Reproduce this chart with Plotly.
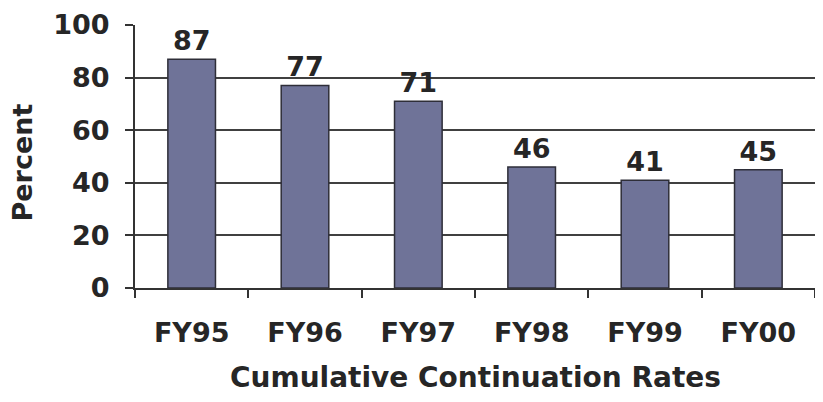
import plotly.graph_objects as go

categories = ["FY95", "FY96", "FY97", "FY98", "FY99", "FY00"]
values = [87, 77, 71, 46, 41, 45]
y_ticks = [0, 20, 40, 60, 80, 100]
x_title = "Cumulative Continuation Rates"
y_title = "Percent"

font_fam = "DejaVu Sans, Liberation Sans, Arial, sans-serif"
txt_col = "#262626"
fsize = 27

fig = go.Figure(go.Bar(
    x=categories, y=values,
    marker=dict(color="#6f7398", line=dict(color="#2e2e38", width=1.5)),
    text=[str(v) for v in values], textposition="outside",
    textfont=dict(family=font_fam, size=fsize, color=txt_col, weight="bold"),
    cliponaxis=False,
))

fig.update_layout(
    width=807, height=386,
    margin=dict(l=127, r=0, t=17, b=106),
    paper_bgcolor="white", plot_bgcolor="white",
    bargap=0.58,
    showlegend=False,
    font=dict(family=font_fam, color=txt_col),
    annotations=[
        dict(text=x_title, xref="paper", yref="paper", x=0.5, y=0,
             xanchor="center", yanchor="middle", yshift=-89, showarrow=False,
             font=dict(size=fsize + 1, color=txt_col, weight="bold")),
        dict(text=y_title, xref="paper", yref="paper", x=0, y=0.5,
             xanchor="center", yanchor="middle", xshift=-113, yshift=-6,
             textangle=-90, showarrow=False,
             font=dict(size=fsize, color=txt_col, weight="bold")),
    ],
)
fig.update_xaxes(
    showline=True, linecolor="#333", linewidth=2,
    ticks="outside", tickson="boundaries", ticklen=8, tickwidth=2, tickcolor="#333",
    tickfont=dict(size=fsize, family=font_fam, color=txt_col, weight="bold"),
    ticklabelstandoff=20,
    automargin=False,
)
fig.update_yaxes(
    range=[0, 100], tickvals=y_ticks,
    showline=True, linecolor="#333", linewidth=2,
    ticks="outside", ticklen=8, tickwidth=2, tickcolor="#333",
    showgrid=True, gridcolor="#404040", gridwidth=2,
    tickfont=dict(size=fsize, family=font_fam, color=txt_col, weight="bold"),
    ticklabelstandoff=10,
    zeroline=False,
    automargin=False,
)

fig.write_html("out.html")
